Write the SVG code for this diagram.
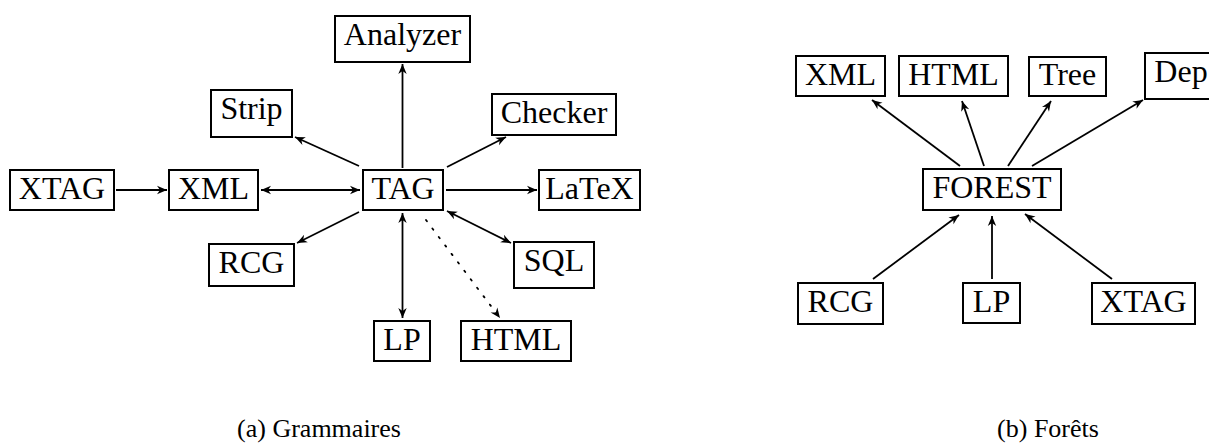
<svg xmlns="http://www.w3.org/2000/svg" width="1209" height="445" viewBox="0 0 1209 445">
<style>
rect{fill:#fff;stroke:#000;stroke-width:2}
text{font-family:"Liberation Serif","Times New Roman",serif;font-size:32px;fill:#000;text-anchor:middle}
text.cap{font-size:26px}
.c line{stroke:#000;stroke-width:1.8;fill:none}
.c line.dot{stroke-dasharray:1.6 9;stroke-linecap:round}
</style>
<defs>
<marker id="ah" viewBox="-11 -6 12 12" markerWidth="12" markerHeight="12" refX="0" refY="0" orient="auto-start-reverse" markerUnits="userSpaceOnUse">
<path d="M0,0 L-10,-4.2 L-7,0 L-10,4.2 Z" fill="#000"/>
</marker>
</defs>
<g class="c" id="connectors">
<line x1="402.5" y1="168" x2="402.5" y2="64" marker-end="url(#ah)"/>
<line x1="359" y1="166" x2="295" y2="137" marker-end="url(#ah)"/>
<line x1="447" y1="167" x2="506" y2="137" marker-end="url(#ah)"/>
<line x1="116" y1="190" x2="167" y2="190" marker-end="url(#ah)"/>
<line x1="261" y1="190" x2="360" y2="190" marker-start="url(#ah)" marker-end="url(#ah)"/>
<line x1="446" y1="190" x2="537" y2="190" marker-end="url(#ah)"/>
<line x1="359" y1="212" x2="297" y2="243" marker-end="url(#ah)"/>
<line x1="402.5" y1="213" x2="402.5" y2="318" marker-start="url(#ah)" marker-end="url(#ah)"/>
<line x1="447" y1="211" x2="511" y2="243" marker-start="url(#ah)" marker-end="url(#ah)"/>
<line class="dot" x1="426" y1="220" x2="500" y2="318" marker-end="url(#ah)"/>
<line x1="960" y1="166" x2="872" y2="100" marker-end="url(#ah)"/>
<line x1="984" y1="166" x2="962" y2="101" marker-end="url(#ah)"/>
<line x1="1008" y1="166" x2="1051" y2="101" marker-end="url(#ah)"/>
<line x1="1032" y1="166" x2="1143" y2="100" marker-end="url(#ah)"/>
<line x1="873" y1="279" x2="959" y2="215" marker-end="url(#ah)"/>
<line x1="992" y1="279" x2="992" y2="216" marker-end="url(#ah)"/>
<line x1="1112" y1="279" x2="1025" y2="214" marker-end="url(#ah)"/>
</g>
<g id="a-analyzer"><rect x="335" y="16" width="135" height="46"/><text x="402.5" y="45">Analyzer</text></g>
<g id="a-strip"><rect x="211" y="90" width="81" height="47"/><text x="251.5" y="119">Strip</text></g>
<g id="a-checker"><rect x="492" y="94" width="124" height="41"/><text x="554" y="123">Checker</text></g>
<g id="a-xtag"><rect x="10" y="170" width="104" height="40"/><text x="62" y="199">XTAG</text></g>
<g id="a-xml"><rect x="169" y="170" width="89" height="40"/><text x="213.5" y="199">XML</text></g>
<g id="a-tag"><rect x="363" y="170" width="80" height="40"/><text x="403" y="199">TAG</text></g>
<g id="a-latex"><rect x="539" y="170" width="101" height="40"/><text x="589.5" y="199">LaTeX</text></g>
<g id="a-rcg"><rect x="209" y="244" width="85" height="42"/><text x="251.5" y="273">RCG</text></g>
<g id="a-sql"><rect x="514" y="242" width="80" height="46"/><text x="554" y="271">SQL</text></g>
<g id="a-lp"><rect x="374" y="321" width="56" height="40"/><text x="402" y="350">LP</text></g>
<g id="a-html"><rect x="461" y="321" width="110" height="40"/><text x="516" y="350">HTML</text></g>
<g id="b-xml"><rect x="796" y="56" width="89" height="40"/><text x="840.5" y="85">XML</text></g>
<g id="b-html"><rect x="899" y="56" width="109" height="40"/><text x="953.5" y="85">HTML</text></g>
<g id="b-tree"><rect x="1029" y="57" width="77" height="39"/><text x="1067.5" y="85">Tree</text></g>
<g id="b-dep"><rect x="1145" y="53" width="72" height="46"/><text x="1181" y="82">Dep</text></g>
<g id="b-forest"><rect x="923" y="169" width="138" height="41"/><text x="992" y="198">FOREST</text></g>
<g id="b-rcg"><rect x="798" y="283" width="85" height="41"/><text x="840.5" y="312">RCG</text></g>
<g id="b-lp"><rect x="963" y="283" width="57" height="40"/><text x="991.5" y="312">LP</text></g>
<g id="b-xtag"><rect x="1092" y="283" width="103" height="41"/><text x="1143.5" y="312">XTAG</text></g>
<text class="cap" x="319" y="437">(a) Grammaires</text>
<text class="cap" x="1048" y="437">(b) Forêts</text>
</svg>
